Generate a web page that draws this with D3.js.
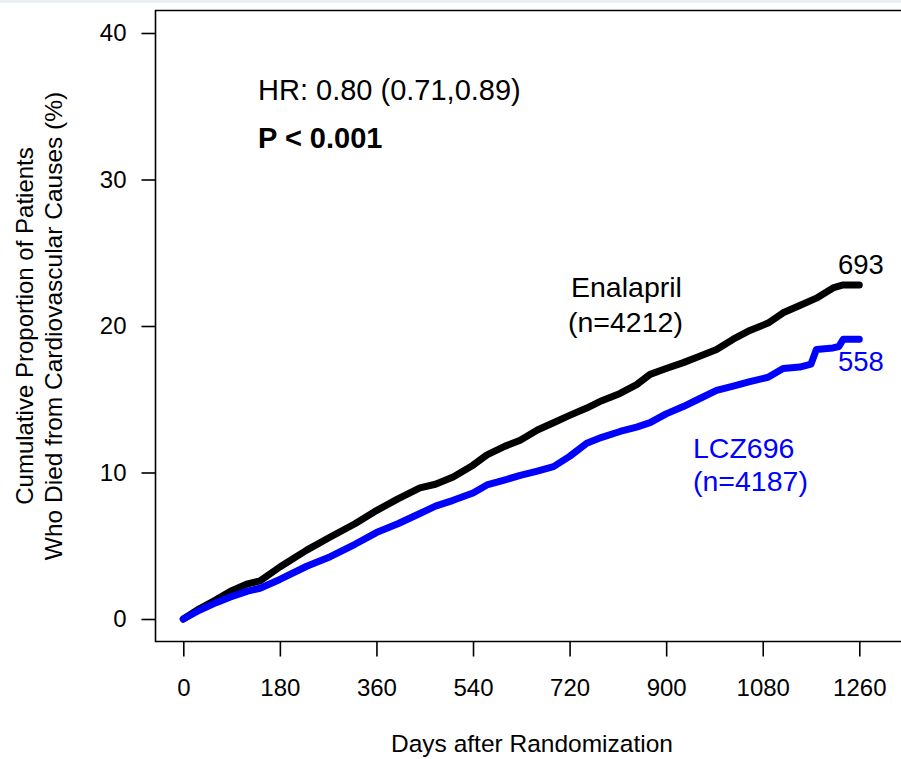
<!DOCTYPE html>
<html>
<head>
<meta charset="utf-8">
<script src="https://cdn.jsdelivr.net/npm/d3@7"></script>
<style>
  body { margin: 0; background: #fff; }
  svg text { font-family: "Liberation Sans", Arial, sans-serif; }
</style>
</head>
<body>
<div id="chart"></div>
<script>
// cumulative proportion (%), by day
var enalaprilDays = [0, 30, 60, 88, 120, 143, 180, 230, 274, 320, 360, 400, 441, 470, 503, 540, 566, 600, 628, 660, 690, 720, 752, 780, 814, 845, 870, 900, 932, 960, 994, 1025, 1056, 1090, 1118, 1149, 1180, 1211, 1230, 1260];
var enalaprilPct  = [0, 0.7, 1.3, 1.9, 2.4, 2.6, 3.55, 4.7, 5.6, 6.5, 7.4, 8.2, 8.95, 9.2, 9.7, 10.5, 11.2, 11.8, 12.2, 12.9, 13.4, 13.9, 14.4, 14.9, 15.4, 16.0, 16.7, 17.1, 17.5, 17.9, 18.4, 19.1, 19.7, 20.2, 20.9, 21.4, 21.9, 22.6, 22.8, 22.8];
var lczDays = [0, 30, 60, 88, 120, 143, 180, 230, 274, 320, 360, 400, 441, 470, 503, 540, 566, 600, 628, 660, 690, 720, 752, 780, 814, 845, 870, 900, 932, 960, 994, 1025, 1056, 1090, 1118, 1149, 1170, 1180, 1211, 1222, 1230, 1260];
var lczPct  = [0, 0.6, 1.1, 1.5, 1.9, 2.1, 2.7, 3.6, 4.25, 5.1, 5.9, 6.5, 7.2, 7.7, 8.1, 8.6, 9.15, 9.5, 9.8, 10.1, 10.4, 11.1, 12.0, 12.4, 12.8, 13.1, 13.4, 14.0, 14.5, 15.0, 15.6, 15.9, 16.2, 16.5, 17.1, 17.2, 17.4, 18.4, 18.5, 18.6, 19.1, 19.1];

var xTicks = [0, 180, 360, 540, 720, 900, 1080, 1260];
var yTicks = [0, 10, 20, 30, 40];

var W = 901, H = 759;
var svg = d3.select("#chart").append("svg")
    .attr("width", W)
    .attr("height", H);

// thin strip at the very top
svg.append("rect").attr("x", 0).attr("y", 0).attr("width", W).attr("height", 3).attr("fill", "#e9eff3");

var x = d3.scaleLinear().domain([0, 1260]).range([183.3, 859.3]);
var y = d3.scaleLinear().domain([0, 40]).range([619, 33]);

// plot box (right side runs off the picture)
svg.append("path")
    .attr("d", "M905,10.5 H155.5 V641.5 H905")
    .attr("fill", "none")
    .attr("stroke", "#000")
    .attr("stroke-width", 1.6);

var xAxis = svg.append("g")
    .attr("transform", "translate(0,641.5)")
    .call(d3.axisBottom(x).tickValues(xTicks).tickFormat(d3.format("d"))
        .tickSize(15).tickSizeOuter(0).tickPadding(22));
xAxis.select(".domain").remove();
xAxis.selectAll("line").attr("stroke-width", 1.6);
xAxis.selectAll("text").attr("font-size", 24).attr("fill", "#000").style("font-family", "Liberation Sans, Arial");

var yAxis = svg.append("g")
    .attr("transform", "translate(155.5,0)")
    .call(d3.axisLeft(y).tickValues(yTicks).tickSize(14).tickSizeOuter(0).tickPadding(15));
yAxis.select(".domain").remove();
yAxis.selectAll("line").attr("stroke-width", 1.6);
yAxis.selectAll("text").attr("font-size", 24).attr("fill", "#000").style("font-family", "Liberation Sans, Arial");

var line = d3.line()
    .x(function(d) { return x(d[0]); })
    .y(function(d) { return y(d[1]); });

var enaData = d3.zip(enalaprilDays, enalaprilPct);
var lczData = d3.zip(lczDays, lczPct);

svg.append("path").datum(enaData)
    .attr("d", line)
    .attr("fill", "none")
    .attr("stroke", "#000")
    .attr("stroke-width", 7)
    .attr("stroke-linejoin", "round")
    .attr("stroke-linecap", "round");

svg.append("path").datum(lczData)
    .attr("d", line)
    .attr("fill", "none")
    .attr("stroke", "#0000ff")
    .attr("stroke-width", 7)
    .attr("stroke-linejoin", "round")
    .attr("stroke-linecap", "round");

function label(tx, ty, str, opts) {
    opts = opts || {};
    return svg.append("text")
        .attr("x", tx).attr("y", ty)
        .attr("font-size", opts.size || 28.5)
        .attr("font-weight", opts.weight || "normal")
        .attr("fill", opts.color || "#000")
        .attr("text-anchor", opts.anchor || "start")
        .text(str);
}

label(258, 100, "HR: 0.80 (0.71,0.89)", {size: 29});
label(258, 148, "P < 0.001", {size: 29, weight: "bold"});
label(571, 297, "Enalapril");
label(568, 332, "(n=4212)");
label(838, 274, "693", {size: 27.5});
label(838, 371, "558", {size: 27.5, color: "#0000ff"});
label(693, 458, "LCZ696", {color: "#0000ff"});
label(693, 491, "(n=4187)", {color: "#0000ff"});

label(532, 752, "Days after Randomization", {size: 24.5, anchor: "middle"});

var yTitle = svg.append("g").attr("transform", "translate(0,326) rotate(-90)");
yTitle.append("text").attr("x", 0).attr("y", 33).attr("text-anchor", "middle")
    .attr("font-size", 24).text("Cumulative Proportion of Patients");
yTitle.append("text").attr("x", 0).attr("y", 62).attr("text-anchor", "middle")
    .attr("font-size", 24.5).text("Who Died from Cardiovascular Causes (%)");
</script>
</body>
</html>
